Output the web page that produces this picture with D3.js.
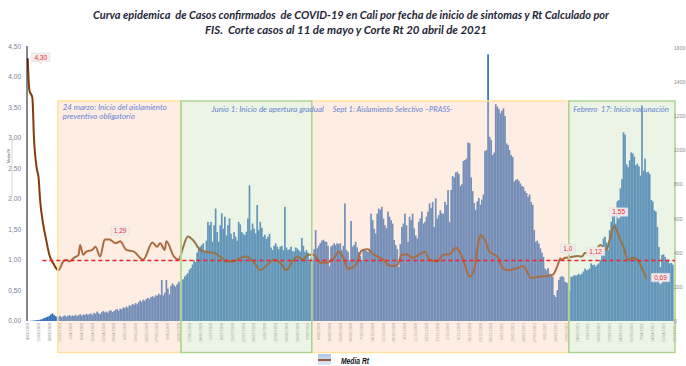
<!DOCTYPE html>
<html>
<head>
<meta charset="utf-8">
<script src="https://cdn.jsdelivr.net/npm/d3@7"></script>
<style>
  html, body { margin: 0; padding: 0; background: #ffffff; }
  svg { display: block; font-family: "Liberation Sans", Arial, sans-serif; }
  .pre { white-space: pre; }
</style>
</head>
<body>
<svg id="chart" width="686" height="366"></svg>
<script>
// ---- Datos ---------------------------------------------------------------

// Casos diarios por fecha de inicio de síntomas (FIS), un valor por día desde fechaInicio
const fechaInicio = "2020-03-04";
const fechaFin = "2021-04-29";
const casos = [
  0, 0, 1, 2, 3, 4, 6, 5, 8, 10,
  14, 18, 22, 25, 30, 38, 45, 35, 28, 24,
  26, 30, 22, 28, 33, 25, 30, 35, 28, 32,
  30, 36, 28, 34, 40, 31, 38, 35, 42, 37,
  40, 44, 36, 48, 42, 55, 46, 40, 52, 58,
  50, 55, 48, 60, 62, 52, 58, 66, 70, 60,
  72, 68, 80, 75, 85, 78, 92, 88, 100, 95,
  105, 98, 110, 120, 112, 125, 118, 130, 135, 128,
  140, 145, 138, 150, 148, 160, 152, 240, 150, 165,
  240, 190, 155, 205, 220, 210, 200, 215, 230, 225,
  240, 245, 260, 270, 280, 300, 310, 330, 355, 345,
  400, 420, 435, 445, 455, 405, 470, 580, 560, 580,
  463, 560, 658, 520, 463, 560, 630, 540, 610, 500,
  560, 600, 510, 480, 520, 493, 470, 580, 565, 520,
  510, 502, 522, 600, 794, 532, 570, 540, 512, 678,
  532, 580, 545, 493, 505, 480, 493, 510, 430, 415,
  440, 455, 435, 420, 435, 440, 415, 668, 430, 415,
  420, 435, 410, 405, 430, 425, 415, 405, 485, 440,
  405, 415, 400, 347, 370, 355, 420, 532, 425, 440,
  455, 470, 475, 465, 463, 440, 320, 435, 444, 455,
  444, 455, 450, 455, 415, 440, 688, 415, 405, 355,
  585, 435, 445, 463, 430, 405, 380, 355, 415, 415,
  410, 405, 420, 628, 590, 540, 512, 628, 658, 650,
  668, 600, 560, 542, 640, 610, 590, 570, 474, 444,
  420, 316, 450, 550, 570, 628, 560, 463, 610, 590,
  628, 542, 500, 483, 580, 600, 640, 570, 580, 610,
  640, 688, 660, 697, 550, 717, 600, 620, 648, 630,
  628, 697, 680, 766, 580, 766, 848, 840, 870, 873,
  860, 790, 800, 936, 942, 950, 1044, 1040, 840, 760,
  690, 650, 700, 720, 680, 710, 740, 994, 1000, 1560,
  1078, 1060, 971, 985, 1268, 1254, 1240, 1215, 1230, 1244,
  1200, 1039, 1030, 1000, 971, 960, 815, 825, 830, 820,
  805, 790, 785, 760, 748, 727, 740, 696, 680, 532,
  463, 470, 453, 425, 400, 375, 307, 297, 310, 277,
  270, 260, 152, 140, 180, 240, 258, 262, 258, 230,
  225, 219, 181, 258, 260, 269, 265, 269, 277, 269,
  277, 290, 307, 297, 300, 307, 337, 327, 330, 318,
  330, 337, 357, 400, 483, 493, 460, 415, 532, 580,
  628, 658, 570, 700, 708, 776, 830, 1104, 1090, 916,
  900, 940, 986, 980, 962, 912, 920, 905, 850, 1260,
  880, 950, 870, 873, 860, 708, 700, 648, 640, 550,
  433, 316, 386, 390, 375, 357, 360, 337, 340, 330
];

// Media del Rt calculado por FIS
const rtFechas = [
  "2020-03-04", "2020-03-05", "2020-03-07", "2020-03-08", "2020-03-10", "2020-03-11",
  "2020-03-12", "2020-03-14", "2020-03-16", "2020-03-18", "2020-03-21", "2020-03-23",
  "2020-03-24", "2020-03-27", "2020-03-29", "2020-03-31", "2020-04-03", "2020-04-06",
  "2020-04-07", "2020-04-09", "2020-04-11", "2020-04-15", "2020-04-17", "2020-04-20",
  "2020-04-23", "2020-04-26", "2020-04-30", "2020-05-02", "2020-05-03", "2020-05-07",
  "2020-05-12", "2020-05-18", "2020-05-24", "2020-05-27", "2020-05-29", "2020-06-01",
  "2020-06-02", "2020-06-07", "2020-06-10", "2020-06-13", "2020-06-16", "2020-06-20",
  "2020-06-24", "2020-06-28", "2020-07-03", "2020-07-07", "2020-07-11", "2020-07-16",
  "2020-07-20", "2020-07-24", "2020-07-29", "2020-08-02", "2020-08-06", "2020-08-11",
  "2020-08-15", "2020-08-19", "2020-08-23", "2020-08-26", "2020-08-30", "2020-09-02",
  "2020-09-06", "2020-09-10", "2020-09-14", "2020-09-19", "2020-09-22", "2020-09-25",
  "2020-09-28", "2020-10-03", "2020-10-07", "2020-10-11", "2020-10-15", "2020-10-19",
  "2020-10-21", "2020-10-25", "2020-10-30", "2020-11-02", "2020-11-05", "2020-11-09",
  "2020-11-13", "2020-11-17", "2020-11-20", "2020-11-25", "2020-11-29", "2020-12-03",
  "2020-12-07", "2020-12-10", "2020-12-13", "2020-12-16", "2020-12-19", "2020-12-21",
  "2020-12-23", "2020-12-26", "2020-12-29", "2021-01-03", "2021-01-07", "2021-01-11",
  "2021-01-16", "2021-01-20", "2021-01-25", "2021-01-30", "2021-02-03", "2021-02-08",
  "2021-02-11", "2021-02-13", "2021-02-14", "2021-02-16", "2021-02-19", "2021-02-24",
  "2021-02-27", "2021-03-01", "2021-03-04", "2021-03-09", "2021-03-11", "2021-03-15",
  "2021-03-17", "2021-03-20", "2021-03-23", "2021-03-26", "2021-03-29", "2021-04-01",
  "2021-04-05", "2021-04-07", "2021-04-10"
];
const rtValores = [
  4.30, 3.78, 3.65, 3.01, 2.47, 2.35,
  1.98, 1.58, 1.32, 1.08, 0.92, 0.84,
  0.83, 0.97, 1.00, 0.97, 1.03, 1.08,
  1.24, 1.08, 1.13, 1.16, 1.21, 1.05,
  1.33, 1.33, 1.27, 1.29, 1.30, 1.16,
  1.13, 1.00, 1.28, 1.21, 1.27, 1.16,
  1.30, 1.05, 1.00, 1.21, 1.38, 1.30,
  1.16, 1.13, 1.11, 1.05, 0.97, 0.97,
  1.03, 1.05, 0.95, 0.83, 0.90, 1.00,
  0.95, 0.83, 0.97, 1.05, 1.00, 1.08,
  1.08, 0.95, 0.95, 1.03, 1.13, 1.03,
  0.85, 0.91, 1.15, 1.17, 1.08, 1.03,
  1.00, 0.90, 0.91, 1.08, 1.09, 1.03,
  1.08, 1.13, 1.00, 0.97, 1.08, 1.09,
  1.19, 1.11, 0.91, 0.72, 0.83, 1.16,
  1.40, 1.32, 1.13, 1.05, 0.85, 0.83,
  0.86, 0.89, 0.70, 0.72, 0.73, 0.75,
  0.89, 1.02, 1.00, 1.03, 1.04, 1.06,
  1.05, 1.11, 1.12, 1.19, 1.24, 1.16,
  1.32, 1.55, 1.38, 1.21, 1.00, 1.03,
  0.97, 0.86, 0.69
];

// Valores de Rt rotulados sobre la curva
const rtEtiquetasFechas = ["2020-03-04", "2020-05-02", "2021-02-14", "2021-03-04", "2021-03-20", "2021-04-10"];
const rtEtiquetasTextos = ["4,30", "1,29", "1,0", "1,12", "1,55", "0,69"];

// Umbral Rt = 1
const umbralRt = 1;
const umbralDesde = "2020-03-14";

// Periodos de medidas
const periodosInicio = ["2020-03-24", "2020-06-12", "2020-09-05", "2021-02-19"];
const periodosFin    = ["2020-06-12", "2020-09-05", "2021-02-19", "2021-04-29"];
const periodosTipo   = ["aislamiento", "apertura", "aislamiento", "vacunacion"];
const periodosTextos = [
  ["24 marzo: Inicio del aislamiento", "preventivo obligatorio"],
  ["Junio 1: Inicio de apertura gradual"],
  ["Sept 1: Aislamiento Selectivo \u2013PRASS-"],
  ["Febrero  17: Inicio vacunación"]
];

// Ejes
const rtTicks = [0, 0.5, 1, 1.5, 2, 2.5, 3, 3.5, 4, 4.5];
const casosTicks = [0, 200, 400, 600, 800, 1000, 1200, 1400, 1600];

const titulo = [
  "Curva epidemica  de Casos confirmados  de COVID-19 en Cali por fecha de inicio de sintomas y Rt Calculado por",
  "FIS.  Corte casos al 11 de mayo y Corte Rt 20 abril de 2021"
];

// ---- Dibujo --------------------------------------------------------------

const parse = d3.utcParse("%Y-%m-%d");
const inicio = parse(fechaInicio);
const svg = d3.select("#chart");

const plotLeft = 27, plotRight = 675, plotBottom = 321, plotTop = 46;

const x = d3.scaleUtc().domain([inicio, parse(fechaFin)]).range([plotLeft, plotRight]);
const yRt = d3.scaleLinear().domain([0, 4.5]).range([320.7, plotTop]);
const yCasos = d3.scaleLinear().domain([0, 1600]).range([plotBottom, 47.5]);
const diaAncho = x(d3.utcDay.offset(inicio, 1)) - x(inicio);

const coma = f => v => f(v).replace(".", ",");

// Título
const tituloLineas = [
  { x: 93, y: 18.5, len: 516 },
  { x: 205, y: 33.5, len: 282 }
];
svg.append("g").selectAll("text").data(titulo).join("text")
  .attr("class", "pre")
  .attr("x", (d, i) => tituloLineas[i].x)
  .attr("y", (d, i) => tituloLineas[i].y)
  .attr("textLength", (d, i) => tituloLineas[i].len)
  .attr("lengthAdjust", "spacingAndGlyphs")
  .style("font-family", "Lato, 'Open Sans', sans-serif")
  .style("font-style", "italic")
  .style("font-weight", "700")
  .style("font-size", "11px")
  .attr("fill", "#1f2738")
  .text(d => d);

// Barras de casos
const dias = casos.map((v, i) => ({ fecha: d3.utcDay.offset(inicio, i), valor: v }));
svg.append("g").selectAll("rect").data(dias).join("rect")
  .attr("x", d => x(d.fecha))
  .attr("width", diaAncho + 0.15)
  .attr("y", d => yCasos(d.valor))
  .attr("height", d => yCasos(0) - yCasos(d.valor))
  .attr("fill", "#2f6fbd");

// Etiquetas semanales de fecha
const semanas = d3.utcDay.range(inicio, parse(fechaFin), 1).filter((d, i) => i % 7 === 0);
const fmtFecha = d3.utcFormat("%-d/%m/%Y");
svg.append("g").selectAll("text").data(semanas).join("text")
  .attr("transform", d => `translate(${x(d) + diaAncho / 2 + 1.4},323) rotate(-90)`)
  .attr("text-anchor", "end")
  .style("font-size", "3.8px")
  .attr("fill", "#8c8c8c")
  .text(d => fmtFecha(d));

// Curva de Rt
const rt = rtFechas.map((f, i) => ({ fecha: parse(f), valor: rtValores[i] }));
const linea = d3.line()
  .x(d => x(d.fecha) + diaAncho / 2)
  .y(d => yRt(d.valor))
  .curve(d3.curveMonotoneX);
svg.append("path").datum(rt)
  .attr("d", linea)
  .attr("fill", "none")
  .attr("stroke", "#843c0c")
  .attr("stroke-width", 2)
  .attr("stroke-linejoin", "round");

// Recuadros de periodos (semitransparentes, sobre barras y curva)
const boxTop = 101, boxBottom = 352.5;
const estilos = {
  aislamiento: { fill: "#f8cbad", stroke: "#ffe39c" },
  apertura:    { fill: "#c5e0b4", stroke: "#a9d18e" },
  vacunacion:  { fill: "#c5e0b4", stroke: "#a9d18e" }
};
const periodos = periodosInicio.map((s, i) => ({
  x0: x(parse(s)), x1: x(parse(periodosFin[i])), tipo: periodosTipo[i], textos: periodosTextos[i]
}));
const orden = [0, 2, 1, 3];
const gBox = svg.append("g");
orden.forEach(i => {
  const p = periodos[i];
  gBox.append("rect")
    .attr("x", p.x0).attr("y", boxTop)
    .attr("width", p.x1 - p.x0).attr("height", boxBottom - boxTop)
    .attr("fill", estilos[p.tipo].fill).attr("fill-opacity", 0.34)
    .attr("stroke", estilos[p.tipo].stroke).attr("stroke-width", 1.4);
});

// Umbral Rt = 1
const yUmbral = Math.round(yRt(umbralRt)) + 0.5;
svg.append("line")
  .attr("x1", x(parse(umbralDesde))).attr("x2", plotRight)
  .attr("y1", yUmbral).attr("y2", yUmbral)
  .attr("stroke", "#ee2229").attr("stroke-width", 1.3)
  .attr("stroke-dasharray", "4,3");

// Textos de los periodos
const textoPos = [
  { dx: 5, y: [110, 119], len: [104, 72] },
  { dx: 30.5, y: [111.5], len: [112.5] },
  { dx: 21, y: [112], len: [120] },
  { dx: 4.5, y: [111.5], len: [95.5] }
];
periodos.forEach((p, i) => {
  p.textos.forEach((t, j) => {
    svg.append("text")
      .attr("class", "pre")
      .attr("x", p.x0 + textoPos[i].dx)
      .attr("y", textoPos[i].y[j])
      .attr("textLength", textoPos[i].len[j])
      .attr("lengthAdjust", "spacingAndGlyphs")
      .style("font-family", "Lato, 'Open Sans', sans-serif")
      .style("font-style", "italic")
      .style("font-size", "7.5px")
      .attr("fill", "#6a85d3")
      .text(t);
  });
});

// Rótulos de Rt
const rotOffsets = [[13, -1], [1.5, -11], [6, -11], [6, -1], [4.5, -14], [14, -1]];
rtEtiquetasFechas.forEach((f, i) => {
  const idx = rtFechas.indexOf(f);
  const px = x(parse(f)) + diaAncho / 2, py = yRt(rtValores[idx]);
  const cx = px + rotOffsets[i][0], cy = py + rotOffsets[i][1];
  const w = rtEtiquetasTextos[i].length * 3.6 + 4, h = 8.5;
  const g = svg.append("g");
  g.append("path")
    .attr("d", `M${cx - w / 2},${cy - h / 2} h${w} v${h} h${-w / 2 + 2} l-2,2.5 l-2,-2.5 h${-w / 2 + 2} Z`)
    .attr("fill", "#f1eded").attr("fill-opacity", 0.95)
    .attr("stroke", "#dcd6d6").attr("stroke-width", 0.5);
  g.append("text")
    .attr("x", cx).attr("y", cy + 2.4)
    .attr("text-anchor", "middle")
    .style("font-size", "6.5px")
    .attr("fill", "#f0282d")
    .text(rtEtiquetasTextos[i]);
});

// Eje izquierdo (Rt)
svg.append("line")
  .attr("x1", plotLeft).attr("x2", plotLeft)
  .attr("y1", plotTop).attr("y2", plotBottom)
  .attr("stroke", "#111").attr("stroke-width", 1);
const ejeIzq = svg.append("g")
  .attr("transform", "translate(21,0)")
  .call(d3.axisLeft(yRt).tickValues(rtTicks).tickFormat(coma(d3.format(".2f"))).tickSize(0).tickPadding(0));
ejeIzq.select(".domain").remove();
ejeIzq.selectAll("text").style("font-size", "6.5px").style("font-family", "'Liberation Sans', Arial, sans-serif").attr("fill", "#76809a");

// Eje derecho (casos)
const ejeDer = svg.append("g")
  .attr("transform", "translate(674,0)")
  .call(d3.axisRight(yCasos).tickValues(casosTicks).tickFormat(d3.format("d")).tickSize(0).tickPadding(0));
ejeDer.select(".domain").remove();
ejeDer.selectAll("text").style("font-size", "5.1px").style("font-family", "'Liberation Sans', Arial, sans-serif").attr("fill", "#8a8a8a");

// Título vertical del eje izquierdo
svg.append("line")
  .attr("x1", 12).attr("x2", 12).attr("y1", 138).attr("y2", 197)
  .attr("stroke", "#d6d6d6").attr("stroke-width", 1);
svg.append("text")
  .attr("transform", "translate(9.5,156) rotate(-90)")
  .attr("text-anchor", "middle")
  .style("font-size", "3.5px")
  .attr("fill", "#445")
  .text("Media Rt");

// Leyenda
const leyenda = svg.append("g").attr("transform", "translate(318,354)");
const grad = svg.append("defs").append("linearGradient")
  .attr("id", "gradLey").attr("x1", 0).attr("x2", 0).attr("y1", 0).attr("y2", 1);
grad.append("stop").attr("offset", "0%").attr("stop-color", "#a9c9ea");
grad.append("stop").attr("offset", "100%").attr("stop-color", "#dfeaf6");
leyenda.append("rect").attr("x", 0).attr("y", 0).attr("width", 13).attr("height", 11).attr("fill", "url(#gradLey)");
leyenda.append("line").attr("x1", 0).attr("x2", 13).attr("y1", 6).attr("y2", 6)
  .attr("stroke", "#9c5a36").attr("stroke-width", 2);
leyenda.append("text")
  .attr("x", 23).attr("y", 10)
  .attr("textLength", 28).attr("lengthAdjust", "spacingAndGlyphs")
  .style("font-size", "9.5px").style("font-weight", "700").style("font-style", "italic")
  .attr("fill", "#111")
  .text("Media Rt");
</script>
</body>
</html>
